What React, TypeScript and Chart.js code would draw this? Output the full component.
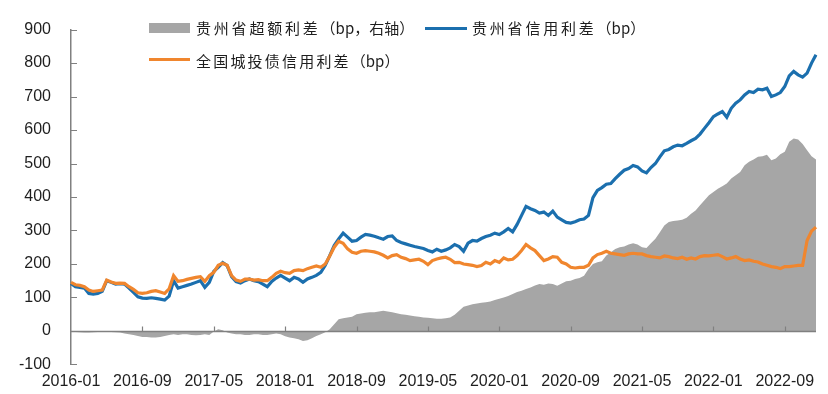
import React, { useEffect, useRef } from "react";
import { Chart, registerables } from "chart.js";

Chart.register(...registerables);

// x-axis tick labels (every 8 months)
const TICK_LABELS = [
  "2016-01", "2016-09", "2017-05", "2018-01", "2018-09", "2019-05",
  "2020-01", "2020-09", "2021-05", "2022-01", "2022-09",
];

// Semi-monthly observations from 2016-01 to 2022-12
// 贵州省信用利差（bp）
const GUIZHOU_SPREAD = [
  142, 132, 130, 128, 112, 110, 112, 118, 150, 145, 140, 141, 140, 128, 115, 102,
  98, 97, 99, 97, 95, 92, 104, 150, 128, 132, 136, 140, 145, 150, 130, 145,
  178, 190, 204, 195, 162, 147, 143, 150, 155, 150, 147, 140, 132, 148, 158, 166,
  158, 150, 160, 155, 145, 155, 160, 166, 175, 196, 225, 255, 275, 292, 280, 268,
  270, 280, 288, 286, 283, 278, 274, 282, 284, 270, 264, 260, 256, 252, 249, 246,
  240, 236, 244, 238, 242, 248, 258, 252, 238, 262, 270, 268, 276, 282, 286, 292,
  288, 296, 306, 296, 318, 345, 372, 365, 360, 352, 355, 345, 358, 340, 332, 324,
  322, 326, 332, 334, 345, 398, 420, 428, 438, 440, 455, 468, 480, 485, 494, 490,
  478, 472, 488, 500, 520, 538, 542, 550, 555, 553, 560, 568, 575, 588, 605, 622,
  640, 648, 655, 638, 665, 680, 690, 705, 715, 712, 722, 720, 725, 700, 705, 712,
  730, 762, 775, 765, 758, 770, 800, 825,
];

// 全国城投债信用利差（bp）
const NATIONAL_SPREAD = [
  145, 138, 136, 132, 122, 118, 120, 122, 152, 146, 142, 143, 142, 132, 124, 114,
  112, 114, 118, 120, 116, 112, 126, 165, 148, 150, 154, 157, 160, 162, 148, 165,
  175, 196, 202, 196, 165, 152, 148, 155, 155, 152, 153, 150, 150, 160, 172, 178,
  174, 172, 180, 182, 180, 186, 190, 194, 190, 200, 224, 250, 268, 262, 245, 235,
  232, 238, 240, 238, 236, 232, 226, 218, 225, 228, 220, 216, 210, 212, 214, 208,
  198, 210, 215, 218, 220, 214, 204, 205, 200, 198, 196, 192, 195, 205, 200, 210,
  205, 218, 212, 214, 225, 240, 258, 248, 240, 225, 210, 215, 222, 220, 205, 200,
  190, 188, 190, 190, 196, 218, 228, 232, 238, 232, 230, 228, 226, 230, 232, 230,
  230, 225, 222, 220, 218, 224, 222, 218, 216, 220, 214, 218, 215, 222, 225, 224,
  226, 228, 222, 215, 218, 222, 215, 210, 212, 208, 206, 200, 196, 192, 190, 186,
  192, 192, 194, 196, 196, 270, 298, 310,
];

// 贵州省超额利差（bp，右轴）
const GUIZHOU_EXCESS = [
  -3, -3, -4, -5, -5, -4, -3, -3, -2, -3, -4, -5, -8, -10, -12, -15,
  -18, -18, -20, -20, -18, -15, -12, -10, -12, -10, -10, -12, -13, -12, -10, -12,
  -2, 5, 2, -5, -8, -10, -10, -12, -12, -10, -10, -12, -12, -10, -8, -10,
  -16, -20, -22, -25, -30, -28, -22, -15, -10, -4, 5, 20, 35, 38, 40, 42,
  50, 52, 54, 56, 56, 58, 60, 58, 56, 53, 50, 48, 46, 44, 42, 40,
  39, 38, 36, 36, 38, 40, 48, 60, 72, 76, 80, 82, 84, 86, 88, 92,
  96, 100, 104, 110, 116, 120, 125, 130, 136, 140, 138, 142, 140, 135, 142, 148,
  150, 155, 158, 165, 185, 200, 205, 208, 225, 235, 245, 250, 252, 258, 262, 258,
  250, 248, 262, 275, 295, 315, 325, 328, 330, 332, 338, 350, 360, 375, 390, 405,
  415, 425, 432, 440, 455, 465, 475, 495, 505, 512, 520, 522, 526, 510, 515, 528,
  535, 565, 575, 572, 558, 540, 522, 512,
];

// category labels: 1st and 16th of each month
const CATEGORIES: string[] = [];
for (let i = 0; i < GUIZHOU_SPREAD.length; i++) {
  const m = Math.floor(i / 2);
  const y = 2016 + Math.floor(m / 12);
  const mm = String((m % 12) + 1).padStart(2, "0");
  CATEGORIES.push(`${y}-${mm}-${i % 2 === 0 ? "01" : "16"}`);
}
const tickLabelAt = (index: number): string => {
  const lab = CATEGORIES[index] || "";
  const ym = lab.slice(0, 7);
  return lab.endsWith("-01") && TICK_LABELS.includes(ym) ? ym : "";
};

const BLUE = "#1b6fae";
const ORANGE = "#f0862e";
const GRAY = "#a6a6a6";
const AXIS = "#808080";
const TEXT = "#1e1e1e";
const TICK_FONT = { family: "'Liberation Sans', Arial, sans-serif", size: 16 };
const CJK = "'Noto Sans CJK SC', 'Noto Sans', sans-serif";

// Draws the axis line at y = 0 and short inward tick marks, after the datasets.
const axisMarks = {
  id: "axisMarks",
  afterDatasetsDraw(chart: any) {
    const { ctx, chartArea, scales } = chart;
    const xs = scales.x;
    const ys = scales.y;
    const y0 = Math.round(ys.getPixelForValue(0)) + 0.5;
    ctx.save();
    ctx.strokeStyle = AXIS;
    ctx.lineWidth = 1.5;
    ctx.beginPath();
    ctx.moveTo(chartArea.left, y0);
    ctx.lineTo(chartArea.right, y0);
    ctx.stroke();
    ctx.lineWidth = 1.2;
    ctx.beginPath();
    for (let i = 0; i < CATEGORIES.length; i++) {
      if (!tickLabelAt(i) || i === 0) continue;
      const px = Math.round(xs.getPixelForValue(i)) + 0.5;
      ctx.moveTo(px, y0);
      ctx.lineTo(px, y0 - 5);
    }
    for (const t of ys.ticks) {
      const py = Math.round(ys.getPixelForValue(t.value)) + 0.5;
      ctx.moveTo(chartArea.left, py);
      ctx.lineTo(chartArea.left + 6, py);
    }
    ctx.stroke();
    ctx.restore();
  },
};

export default function App() {
  const ref = useRef<HTMLCanvasElement | null>(null);

  useEffect(() => {
    if (!ref.current) return;
    const chart = new Chart(ref.current, {
      type: "line",
      data: {
        labels: CATEGORIES,
        datasets: [
          {
            label: "全国城投债信用利差（bp）",
            data: NATIONAL_SPREAD,
            borderColor: ORANGE,
            borderWidth: 3.2,
            pointRadius: 0,
            tension: 0,
            fill: false,
            yAxisID: "y",
          },
          {
            label: "贵州省信用利差（bp）",
            data: GUIZHOU_SPREAD,
            borderColor: BLUE,
            borderWidth: 3.2,
            pointRadius: 0,
            tension: 0,
            fill: false,
            yAxisID: "y",
          },
          {
            label: "贵州省超额利差（bp，右轴）",
            data: GUIZHOU_EXCESS,
            borderColor: GRAY,
            backgroundColor: GRAY,
            borderWidth: 0,
            pointRadius: 0,
            tension: 0,
            fill: "origin",
            yAxisID: "y1",
          },
        ],
      },
      options: {
        animation: false,
        responsive: false,
        maintainAspectRatio: false,
        layout: { padding: { left: 0, right: 12, top: 27, bottom: 0 } },
        plugins: { legend: { display: false }, tooltip: { enabled: false } },
        scales: {
          x: {
            type: "category",
            position: "bottom",
            grid: { display: false, drawTicks: false },
            border: { display: false },
            ticks: {
              autoSkip: false,
              maxRotation: 0,
              minRotation: 0,
              padding: 8,
              color: TEXT,
              font: TICK_FONT,
              callback: (_v: any, index: number) => tickLabelAt(index),
            },
            afterFit: (s: any) => {
              s.height = 25;
            },
          },
          y: {
            position: "left",
            min: -100,
            max: 900,
            ticks: {
              stepSize: 100,
              padding: 20,
              color: TEXT,
              font: TICK_FONT,
            },
            grid: { display: false, drawTicks: false },
            border: { display: true, color: AXIS, width: 1.5 },
            afterFit: (s: any) => {
              s.width = 71;
            },
          },
          y1: {
            position: "right",
            display: false,
            min: -100,
            max: 900,
          },
        },
      },
      plugins: [axisMarks],
    });
    return () => chart.destroy();
  }, []);

  const legendText: React.CSSProperties = {
    position: "absolute",
    fontFamily: CJK,
    fontSize: 15,
    lineHeight: "20px",
    color: TEXT,
    whiteSpace: "nowrap",
  };
  const spaced: React.CSSProperties = { letterSpacing: "2.8px" };

  return (
    <div
      style={{
        position: "fixed",
        left: 0,
        top: 0,
        width: 828,
        height: 394,
        background: "#ffffff",
      }}
    >
      <canvas ref={ref} width={828} height={394} style={{ display: "block" }} />
      {/* legend row 1 */}
      <div
        style={{
          position: "absolute",
          left: 149,
          top: 23,
          width: 41,
          height: 10,
          background: GRAY,
        }}
      />
      <div style={{ ...legendText, left: 196, top: 18 }}>
        <span style={spaced}>贵州省超额利差</span>
        <span>（bp，右轴）</span>
      </div>
      <div
        style={{
          position: "absolute",
          left: 425,
          top: 27,
          width: 42,
          height: 3,
          background: BLUE,
        }}
      />
      <div style={{ ...legendText, left: 472, top: 18 }}>
        <span style={spaced}>贵州省信用利差</span>
        <span>（bp）</span>
      </div>
      {/* legend row 2 */}
      <div
        style={{
          position: "absolute",
          left: 149,
          top: 58,
          width: 41,
          height: 3,
          background: ORANGE,
        }}
      />
      <div style={{ ...legendText, left: 196, top: 51 }}>
        <span style={{ letterSpacing: "2.2px" }}>全国城投债信用利差</span>
        <span>（bp）</span>
      </div>
    </div>
  );
}
